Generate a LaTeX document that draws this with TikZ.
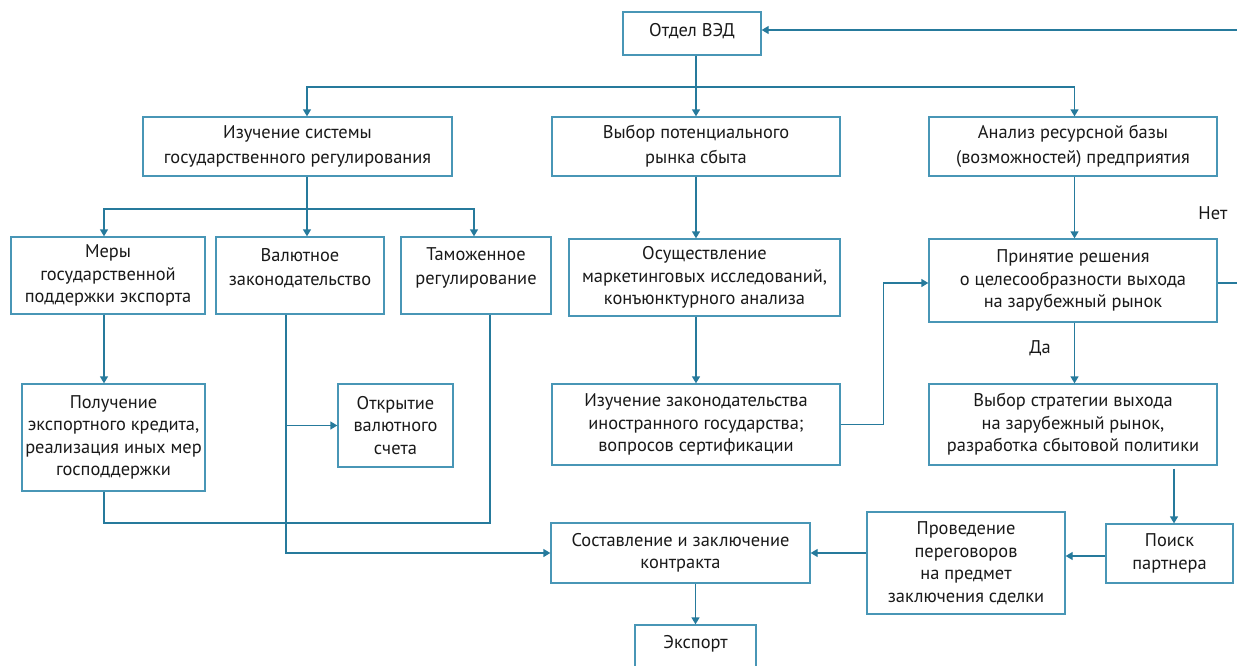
\documentclass[tikz,border=0pt]{standalone}
\usepackage{fontspec}
\setmainfont{PT Sans}
\usetikzlibrary{arrows.meta}
\definecolor{lnc}{RGB}{38,122,156}
\definecolor{bxc}{RGB}{72,150,182}
\definecolor{txc}{RGB}{25,25,25}
\tikzset{
  box/.style={draw=bxc, line width=1.3pt, inner sep=0pt, text=txc, align=center,
    font=\fontsize{18.4}{22.5}\selectfont},
  txt/.style={inner sep=0pt, text=txc, align=center, font=\fontsize{18.4}{22.5}\selectfont},
  wide/.style={font=\fontsize{18.4}{25}\selectfont},
  ln/.style={draw=lnc, line width=1.3pt},
  arr/.style={ln, -{Triangle[length=7pt,width=8pt]}}
}
\begin{document}
\begin{tikzpicture}[x=1pt,y=-1pt]
\useasboundingbox (0,0) rectangle (1237,665);
% boxes
\node[box, minimum width=138pt, minimum height=43pt] (ved) at (692,33.5) {};
\node[txt] at ([yshift=2pt]ved.center) {Отдел ВЭД};
\node[box, wide, minimum width=309pt, minimum height=59pt] (izs) at (297.5,146.5) {Изучение системы\\государственного регулирования};
\node[box, wide, minimum width=288pt, minimum height=59pt] (vyb) at (696,146.5) {Выбор потенциального\\рынка сбыта};
\node[box, wide, minimum width=288pt, minimum height=59pt] (ana) at (1073,146.5) {Анализ ресурсной базы\\(возможностей) предприятия};
\node[box, minimum width=194pt, minimum height=77pt] (mery) at (108,275.5) {Меры\\государственной\\поддержки экспорта};
\node[box, minimum width=168pt, minimum height=77pt] (val) at (300,275.5) {};
\node[txt, font=\fontsize{18.4}{24}\selectfont] at ([yshift=7.5pt]val.center) {Валютное\\законодательство};
\node[box, minimum width=150pt, minimum height=77pt] (tam) at (476,275.5) {};
\node[txt, font=\fontsize{18.4}{24}\selectfont] at ([yshift=7.5pt]tam.center) {Таможенное\\регулирование};
\node[box, minimum width=271pt, minimum height=77pt] (osu) at (704.5,277.5) {Осуществление\\маркетинговых исследований,\\конъюнктурного анализа};
\node[box, minimum width=288pt, minimum height=83pt] (pri) at (1073,280.5) {Принятие решения\\о целесообразности выхода\\на зарубежный рынок};
\node[box, minimum width=183pt, minimum height=107pt] (pol) at (113.5,437.5) {Получение\\экспортного кредита,\\реализация иных мер\\господдержки};
\node[box, minimum width=115pt, minimum height=83pt] (otk) at (395.5,425.5) {Открытие\\валютного\\счета};
\node[box, minimum width=288pt, minimum height=81pt] (izz) at (696,424.5) {Изучение законодательства\\иностранного государства;\\вопросов сертификации};
\node[box, minimum width=288pt, minimum height=81pt] (vst) at (1073,424.5) {Выбор стратегии выхода\\на зарубежный рынок,\\разработка сбытовой политики};
\node[box, minimum width=259pt, minimum height=60pt] (sos) at (680.5,553) {Составление и заключение\\контракта};
\node[box, minimum width=198pt, minimum height=102pt] (pro) at (966,563) {Проведение\\переговоров\\на предмет\\заключения сделки};
\node[box, minimum width=127pt, minimum height=59pt] (poi) at (1169.5,553.5) {Поиск\\партнера};
\node[box, minimum width=121pt, minimum height=50pt] (exp) at (695.5,650) {};
\node[txt] at (695.5,644) {Экспорт};
% labels
\node[txt] (net) at (1213,213) {Нет};
\node[txt] (da) at (1040,348) {Да};
% connectors
\coordinate (rin) at (1237,30);
\draw[arr] (rin) -- (rin -| ved.east);
\coordinate (rout) at (1237,283);
\draw[ln] (pri.east |- rout) -- (rout);
\coordinate (hub) at (696,87);
\draw[ln] (ved.south -| hub) -- (hub);
\draw[arr] (hub) -- (vyb.north);
\draw[arr] (hub) -| ([xshift=9.5pt]izs.north);
\draw[arr] (hub) -| ([xshift=1.5pt]ana.north);
\coordinate (hub2) at (307,209);
\draw[ln] (izs.south -| hub2) -- (hub2);
\draw[arr] (hub2) -| ([xshift=-4pt]mery.north);
\draw[arr] (hub2) -- (val.north -| hub2);
\draw[arr] (hub2) -| ([xshift=-2pt]tam.north);
\coordinate (vl) at ([xshift=-14pt]val.south);
\draw[arr] (vl) |- (sos.west);
\draw[arr] (vl |- otk.west) -- (otk.west);
\coordinate (ml) at ([xshift=-4pt]mery.south);
\draw[arr] (ml) -- (ml |- pol.north);
\coordinate (tl) at ([xshift=14pt]tam.south);
\draw[ln] (pol.south -| ml) -- (ml |- 0,523) -| (tl);
\draw[arr] (vyb.south) -- (vyb.south |- osu.north);
\draw[arr] (osu.south -| izz.north) -- (izz.north);
\draw[arr] (izz.east) -- ++(43,0) |- ([yshift=-2.5pt]pri.west);
\draw[arr] ([xshift=1.5pt]ana.south) -- ([xshift=1.5pt]pri.north);
\draw[arr] ([xshift=1.5pt]pri.south) -- ([xshift=1.5pt]vst.north);
\coordinate (pt) at ([xshift=4.5pt]poi.north);
\coordinate (vsb) at ([yshift=-3pt]vst.south);
\draw[arr] (pt |- vsb) -- (pt);
\draw[arr] ([yshift=-2.5pt]poi.west) -- ([yshift=-2.5pt]poi.west -| pro.east);
\draw[arr] (pro.west |- sos.east) -- (sos.east);
\draw[arr] (sos.south -| exp.north) -- (exp.north);
\end{tikzpicture}
\end{document}
